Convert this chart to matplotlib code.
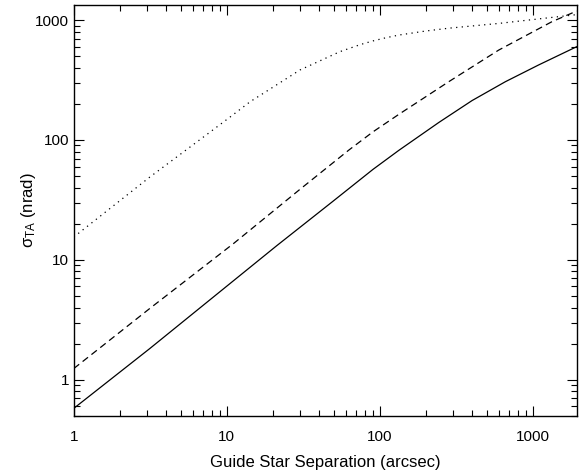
import matplotlib
matplotlib.use("Agg")
import matplotlib.pyplot as plt
from matplotlib.ticker import LogLocator, NullFormatter, FixedLocator, FixedFormatter

plt.rcParams['font.family'] = ['Liberation Sans', 'DejaVu Sans']
plt.rcParams['mathtext.fontset'] = 'custom'
plt.rcParams['mathtext.rm'] = 'Liberation Sans'
plt.rcParams['mathtext.it'] = 'Liberation Sans'

# values (separation in arcsec, sigma in nrad)
solid_x = [1, 3.14, 21.2, 49.2, 90.6, 133.7, 244, 402, 664, 1095, 1946]
solid_y = [0.577, 1.82, 13.1, 30.6, 56.9, 82, 140, 213, 306, 422, 600]

dash_x = [1, 3.14, 11.1, 29.8, 63.1, 90.6, 134, 283, 601, 1337, 1946]
dash_y = [1.24, 3.93, 13.7, 38.3, 82.6, 117, 164, 306, 562, 968, 1190]

dot_x = [1, 3.14, 7.41, 10.5, 14.2, 30.1, 55, 75, 90.6, 110, 134, 200, 283, 601, 1946]
dot_y = [15.5, 49, 111, 155, 208, 383, 545, 625, 670, 712, 750, 810, 855, 937, 1110]

yticks = [1, 10, 100, 1000]
xticks = [1, 10, 100, 1000]

fig = plt.figure(figsize=(5.81, 4.72), dpi=100)
ax = fig.add_axes([0.127, 0.119, 0.866, 0.870])

ax.plot(solid_x, solid_y, color='black', lw=0.9, ls='-')
ax.plot(dash_x, dash_y, color='black', lw=0.9, ls=(0, (5.5, 3.5)))
ax.plot(dot_x, dot_y, color='black', lw=0.9, ls=(0, (1, 3.5)))

ax.set_xscale('log')
ax.set_yscale('log')
ax.set_xlim(1, 1950)
ax.set_ylim(0.5, 1330)

ax.xaxis.set_major_locator(FixedLocator(xticks))
ax.xaxis.set_major_formatter(FixedFormatter([str(v) for v in xticks]))
ax.yaxis.set_major_locator(FixedLocator(yticks))
ax.yaxis.set_major_formatter(FixedFormatter([str(v) for v in yticks]))
ax.xaxis.set_minor_locator(LogLocator(base=10, subs=range(2, 10)))
ax.yaxis.set_minor_locator(LogLocator(base=10, subs=range(2, 10)))
ax.xaxis.set_minor_formatter(NullFormatter())
ax.yaxis.set_minor_formatter(NullFormatter())

ax.tick_params(which='both', direction='in', top=True, right=True, width=0.8, labelsize=11)
ax.tick_params(which='major', length=7)
ax.tick_params(which='minor', length=4)
ax.tick_params(axis='x', pad=10)
for s in ax.spines.values():
    s.set_linewidth(1.0)

ax.set_xlabel("Guide Star Separation (arcsec)", fontsize=12, labelpad=8)
ax.set_ylabel(r"σ$_{\rm TA}$ (nrad)", fontsize=12, labelpad=-2)

fig.savefig("out.png", dpi=100)
